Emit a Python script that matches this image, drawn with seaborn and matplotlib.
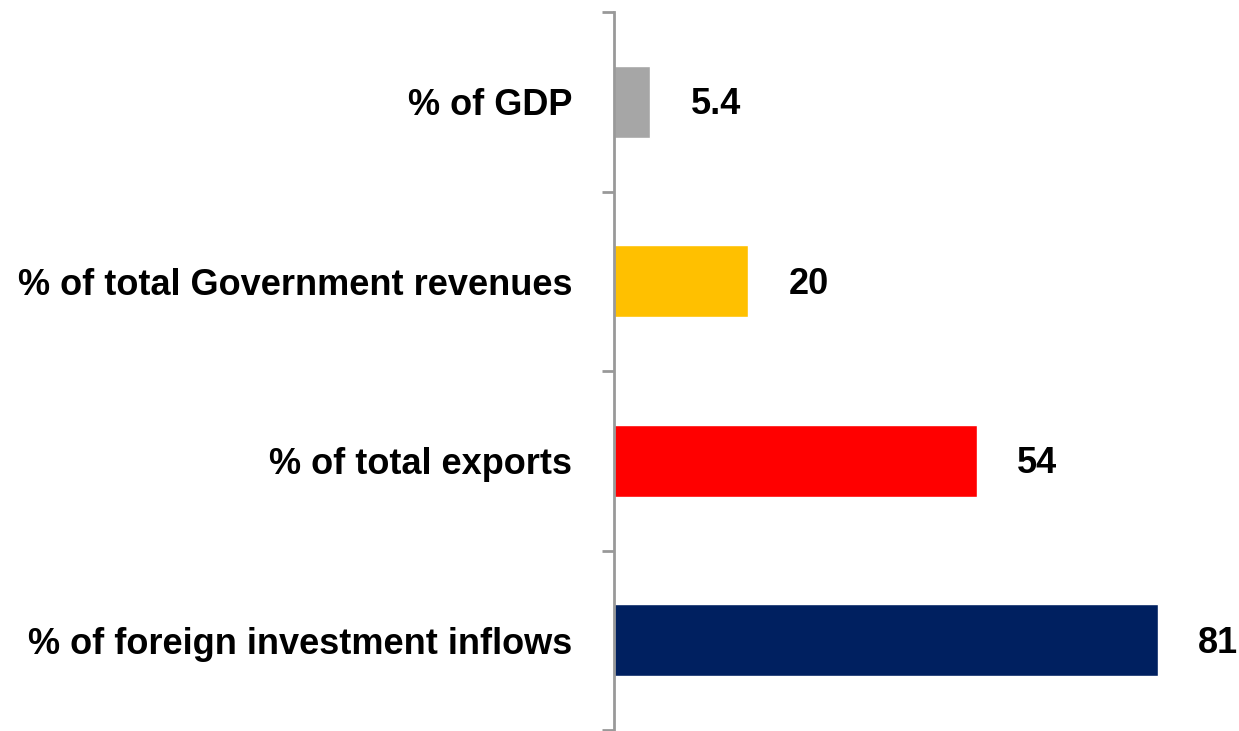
import matplotlib
matplotlib.use("Agg")
import matplotlib.pyplot as plt
import seaborn as sns
import pandas as pd

categories = ["% of GDP", "% of total Government revenues", "% of total exports",
              "% of foreign investment inflows"]
values = [5.4, 20, 54, 81]
value_labels = ["5.4", "20", "54", "81"]
colors = ["#A6A6A6", "#FFC000", "#FF0000", "#002060"]

sns.set_theme(style="white")
plt.rcParams["font.family"] = ["Liberation Sans", "DejaVu Sans"]

df = pd.DataFrame({"category": categories, "value": values})

fig = plt.figure(figsize=(12.39, 7.31), dpi=100)
ax = fig.add_axes([614 / 1239, 1 / 731, 625 / 1239, 718 / 731])

sns.barplot(data=df, x="value", y="category", hue="category", palette=colors,
            width=0.4, legend=False, ax=ax, saturation=1)

ax.set_xlim(0, 625 / 6.716)
ax.set_ylim(3.5, -0.5)
ax.set_xlabel("")
ax.set_ylabel("")
ax.set_xticks([])

for s in ["top", "right", "bottom"]:
    ax.spines[s].set_visible(False)
ax.spines["left"].set_color("#999999")
ax.spines["left"].set_linewidth(2)

ax.set_yticks(range(len(categories)))
ax.set_yticklabels(categories, fontsize=26, fontweight="bold", color="black")
ax.tick_params(axis="y", which="major", length=0, pad=30)
ax.set_yticks([-0.5, 0.5, 1.5, 2.5, 3.5], minor=True)
ax.tick_params(axis="y", which="minor", length=8.6, width=2, color="#999999", left=True)

for i, (v, lab) in enumerate(zip(values, value_labels)):
    ax.annotate(lab, xy=(v, i), xytext=(29, -2), textcoords="offset points",
                ha="left", va="center", fontsize=26, fontweight="bold", color="black")

fig.savefig("out.png", dpi=100)
